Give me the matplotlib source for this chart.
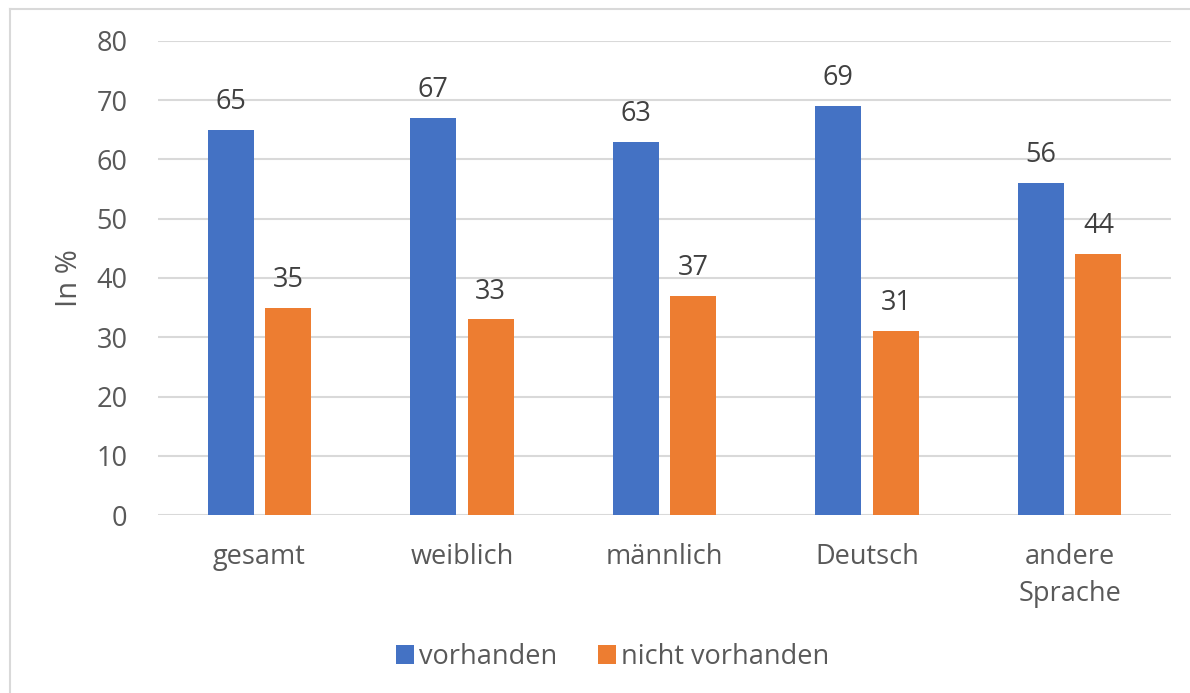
import numpy as np
import matplotlib
matplotlib.use("Agg")
import matplotlib.pyplot as plt
from matplotlib.lines import Line2D

# ========== Daten ==========
categories = ["gesamt", "weiblich", "männlich", "Deutsch", "andere\nSprache"]
vorhanden = [65, 67, 63, 69, 56]
nicht_vorhanden = [35, 33, 37, 31, 44]
series_names = ["vorhanden", "nicht vorhanden"]
y_ticks = [0, 10, 20, 30, 40, 50, 60, 70, 80]
# ===========================

BLUE = "#4472C4"
ORANGE = "#ED7D31"
TEXT = "#595959"
GRID = "#D9D9D9"
FS = 19.5

plt.rcParams["font.family"] = ["Open Sans", "DejaVu Sans"]

W, H = 1190, 693
fig = plt.figure(figsize=(W / 100, H / 100), dpi=100)
ax = fig.add_axes([158 / W, 1 - 515 / H, (1171 - 158) / W, (515 - 41) / H])

x = np.arange(len(categories))
bw = 0.227
off = 0.142
b1 = ax.bar(x - off, vorhanden, bw, color=BLUE, zorder=3, label=series_names[0])
b2 = ax.bar(x + off, nicht_vorhanden, bw, color=ORANGE, zorder=3, label=series_names[1])

for bars in (b1, b2):
    for r in bars:
        ax.annotate(f"{r.get_height():.0f}", (r.get_x() + r.get_width() / 2, r.get_height()),
                    xytext=(0, 10), textcoords="offset points", ha="center", va="bottom",
                    fontsize=FS, color="#404040")

ax.set_xlim(-0.5, len(categories) - 0.5)
ax.set_ylim(0, 80)
ax.set_yticks(y_ticks)
ax.yaxis.grid(True, color=GRID, lw=1.5, zorder=0)
ax.set_axisbelow(True)
for s in ax.spines.values():
    s.set_visible(False)
ax.tick_params(length=0, labelsize=FS, colors=TEXT)
ax.tick_params(axis="y", pad=22)
ax.tick_params(axis="x", pad=20)
ax.set_xticks(x)
ax.set_xticklabels(categories, linespacing=1.45, va="top")
ax.set_ylabel("In %", fontsize=21, color=TEXT, labelpad=9)

# Rahmen des Diagrammbereichs (nur links und oben sichtbar)
fig.add_artist(Line2D([10 / W, 10 / W], [0, 1 - 9 / H], color=GRID, lw=1.5, transform=fig.transFigure))
fig.add_artist(Line2D([10 / W, 1], [1 - 9 / H, 1 - 9 / H], color=GRID, lw=1.5, transform=fig.transFigure))

fig.legend(handles=[b1, b2], loc="center", bbox_to_anchor=(0.515, 1 - 657 / H), ncol=2,
           frameon=False, fontsize=FS, labelcolor=TEXT, handlelength=0.65, handleheight=0.65,
           handletextpad=0.2, columnspacing=1.5)

fig.savefig("out.png", dpi=100)
